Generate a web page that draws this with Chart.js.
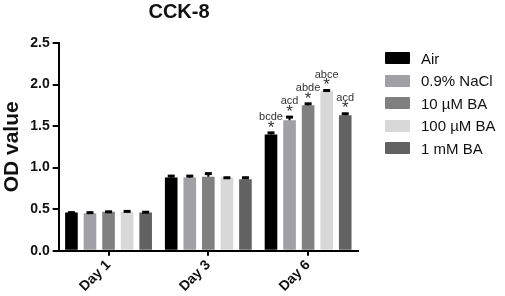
<!DOCTYPE html>
<html lang="en">
<head>
  <meta charset="UTF-8">
  <title>CCK-8</title>
  <script src="https://cdn.jsdelivr.net/npm/chart.js"></script>
  <style>
    body { margin: 0; background: #fff; font-family: Arial, "Liberation Sans", sans-serif; }
    .wrap { position: relative; width: 505px; height: 296px; }
    .legend { position: absolute; left: 385px; top: 47px; }
    .legend-item { display: flex; align-items: center; height: 22.5px; font-size: 15px; color: #111; }
    .legend-color { width: 25px; height: 12px; margin-right: 11px; border-radius: 1px; }
  </style>
</head>
<body>
  <div class="wrap">
    <canvas id="cck" width="505" height="296"></canvas>
    <div id="legend" class="legend"></div>
  </div>

  <script>
    const days = ['Day 1', 'Day 3', 'Day 6'];
    const groups = ['Air', '0.9% NaCl', '10 \u00b5M BA', '100 \u00b5M BA', '1 mM BA'];
    const colors = ['#000000', '#a0a0a6', '#808080', '#d8d8d8', '#626262'];

    // OD means per group (Day 1, Day 3, Day 6)
    const air     = [0.46, 0.88, 1.40];
    const nacl    = [0.45, 0.88, 1.57];
    const ba10u   = [0.47, 0.89, 1.75];
    const ba100u  = [0.47, 0.88, 1.92];
    const ba1m    = [0.46, 0.86, 1.63];

    // upper error (SD)
    const airErr    = [0.01, 0.03, 0.03];
    const naclErr   = [0.02, 0.03, 0.05];
    const ba10uErr  = [0.01, 0.05, 0.03];
    const ba100uErr = [0.015, 0.01, 0.02];
    const ba1mErr   = [0.015, 0.03, 0.03];

    // significance letters on Day 6
    const sigLetters = ['bcde', 'acd', 'abde', 'abce', 'acd'];
    const yTicks = [0, 0.5, 1.0, 1.5, 2.0, 2.5];

    const values = [air, nacl, ba10u, ba100u, ba1m];
    const errors = [airErr, naclErr, ba10uErr, ba100uErr, ba1mErr];

    const errorBars = {
      id: 'errorBars',
      afterDatasetsDraw(chart) {
        const { ctx, scales: { y } } = chart;
        ctx.save();
        chart.data.datasets.forEach((ds, i) => {
          const meta = chart.getDatasetMeta(i);
          meta.data.forEach((bar, j) => {
            const top = y.getPixelForValue(ds.data[j] + errors[i][j]);
            ctx.strokeStyle = '#000';
            ctx.lineWidth = 2;
            ctx.beginPath();
            ctx.moveTo(bar.x, bar.y);
            ctx.lineTo(bar.x, top);
            ctx.stroke();
            ctx.lineWidth = 3;
            ctx.beginPath();
            ctx.moveTo(bar.x - 3.5, top + 1);
            ctx.lineTo(bar.x + 3.5, top + 1);
            ctx.stroke();

            if (j === 2) {
              ctx.fillStyle = '#333';
              ctx.textAlign = 'center';
              ctx.textBaseline = 'middle';
              ctx.font = '17px Arial';
              ctx.fillText('*', bar.x, top - 4);
              ctx.font = '11px Arial';
              ctx.fillText(sigLetters[i], bar.x, top - 15);
            }
          });
        });
        ctx.restore();
      }
    };

    const chart = new Chart(document.getElementById('cck'), {
      type: 'bar',
      data: {
        labels: days,
        datasets: groups.map((g, i) => ({
          label: g,
          data: values[i],
          backgroundColor: colors[i],
          borderWidth: 0,
          categoryPercentage: 0.93,
          barPercentage: 0.68
        }))
      },
      options: {
        responsive: false,
        animation: false,
        layout: { padding: { left: 0, right: 147, bottom: 0, top: 0 } },
        plugins: {
          legend: { display: false },
          tooltip: { enabled: false },
          title: {
            display: true,
            text: 'CCK-8',
            color: '#111',
            font: { size: 20, weight: 'bold', family: 'Arial' },
            padding: { top: 0, bottom: 19 }
          }
        },
        scales: {
          x: {
            border: { color: '#000', width: 2 },
            grid: { display: true, drawOnChartArea: false, offset: false, color: '#000', lineWidth: 2, tickLength: 5 },
            ticks: {
              color: '#111',
              maxRotation: 45,
              minRotation: 45,
              padding: 1,
              font: { size: 14, weight: 'bold', family: 'Arial' }
            }
          },
          y: {
            min: 0,
            max: 2.5,
            afterBuildTicks: axis => { axis.ticks = yTicks.map(v => ({ value: v })); },
            border: { color: '#000', width: 2 },
            grid: { display: true, drawOnChartArea: false, color: '#000', lineWidth: 2, tickLength: 6 },
            title: {
              display: true,
              text: 'OD value',
              color: '#111',
              font: { size: 21, weight: 'bold', family: 'Arial' },
              padding: { top: 0, bottom: 2 }
            },
            ticks: {
              color: '#111',
              padding: 3,
              callback: v => v.toFixed(1),
              font: { size: 14, weight: 'bold', family: 'Arial' }
            }
          }
        }
      },
      plugins: [errorBars]
    });

    const legend = document.getElementById('legend');
    groups.forEach((g, i) => {
      const item = document.createElement('div');
      item.classList.add('legend-item');
      const box = document.createElement('div');
      box.classList.add('legend-color');
      box.style.backgroundColor = colors[i];
      const label = document.createElement('span');
      label.textContent = g;
      item.appendChild(box);
      item.appendChild(label);
      legend.appendChild(item);
    });
  </script>
</body>
</html>
